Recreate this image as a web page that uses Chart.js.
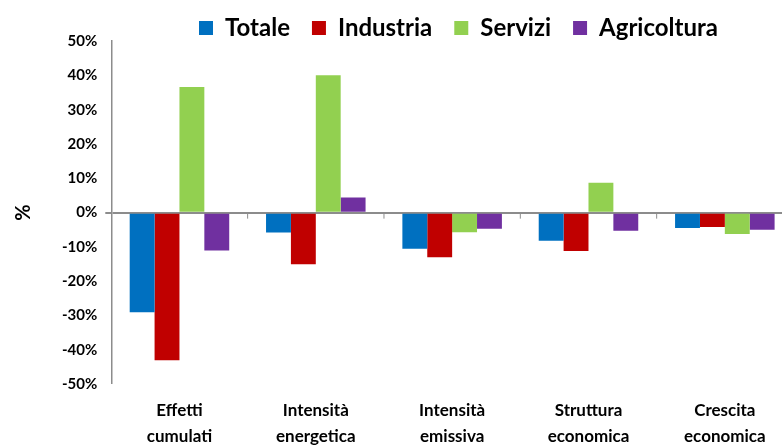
<!DOCTYPE html>
<html>
<head>
<meta charset="utf-8">
<script src="https://cdn.jsdelivr.net/npm/chart.js@4"></script>
<style>
  html, body { margin: 0; padding: 0; background: #fff; overflow: hidden; }
  #wrap { width: 798px; height: 455px; }
</style>
</head>
<body>
<div id="wrap"><canvas id="chart"></canvas></div>
<script>
const categories = [
  ["Effetti", "cumulati"],
  ["Intensità", "energetica"],
  ["Intensità", "emissiva"],
  ["Struttura", "economica"],
  ["Crescita", "economica"]
];
const totale = [-29, -5.8, -10.5, -8.2, -4.5];
const industria = [-43, -15, -13, -11.2, -4.2];
const servizi = [36.6, 40, -5.7, 8.7, -6.2];
const agricoltura = [-11, 4.4, -4.7, -5.3, -5];

const axisGray = "#8c8c8c";
const font = "Lato, 'Open Sans', sans-serif";

// little tick marks on the zero line between categories
const zeroTicks = {
  id: "zeroTicks",
  afterDatasetsDraw: function (chart) {
    var x = chart.scales.x, y = chart.scales.y;
    var ctx = chart.ctx;
    var y0 = y.getPixelForValue(0);
    ctx.save();
    ctx.strokeStyle = axisGray;
    ctx.lineWidth = 1;
    for (var i = 1; i < categories.length; i++) {
      var px = (x.getPixelForValue(i - 1) + x.getPixelForValue(i)) / 2;
      ctx.beginPath();
      ctx.moveTo(px, y0);
      ctx.lineTo(px, y0 + 6);
      ctx.stroke();
    }
    ctx.restore();
  }
};

// legend box is taller than needed, trim it (but don't clip the text)
// and nudge it right so it sits over the plot like the original
var TRIM = 9;
var SHIFT = 56;
const shortLegend = {
  id: "shortLegend",
  beforeInit: function (chart) {
    var lg = chart.legend;
    var fit = lg.fit;
    var draw = lg.draw;
    lg.fit = function () {
      fit.call(lg);
      this.height -= TRIM;
    };
    lg.draw = function () {
      this.height += TRIM;
      chart.ctx.save();
      chart.ctx.translate(SHIFT, 0);
      draw.call(lg);
      chart.ctx.restore();
      this.height -= TRIM;
    };
  }
};

var ctx = document.getElementById("chart").getContext("2d");
var myChart = new Chart(ctx, {
  type: "bar",
  data: {
    labels: categories,
    datasets: [
      { label: "Totale", data: totale, backgroundColor: "#0070C0" },
      { label: "Industria", data: industria, backgroundColor: "#C00000" },
      { label: "Servizi", data: servizi, backgroundColor: "#92D050" },
      { label: "Agricoltura", data: agricoltura, backgroundColor: "#7030A0" }
    ]
  },
  options: {
    responsive: true,
    maintainAspectRatio: false,
    animation: false,
    layout: { padding: { left: 12, right: 5, top: -6, bottom: 0 } },
    datasets: { bar: { categoryPercentage: 0.73, barPercentage: 1.0 } },
    plugins: {
      legend: {
        position: "top",
        labels: {
          font: { family: font, size: 24, weight: "bold" },
          color: "#000",
          boxWidth: 14,
          boxHeight: 14,
          padding: 22
        }
      },
      tooltip: { enabled: false }
    },
    scales: {
      x: {
        grid: { display: false },
        border: { display: false },
        ticks: {
          font: { family: font, size: 17, weight: "bold", lineHeight: 1.55 },
          color: "#000",
          padding: 5,
          maxRotation: 0
        }
      },
      y: {
        min: -50,
        max: 50,
        ticks: {
          stepSize: 10,
          callback: function (v) { return v + "%"; },
          font: { family: font, size: 15, weight: "bold" },
          color: "#000",
          padding: 8
        },
        grid: {
          color: function (c) { return c.tick && c.tick.value === 0 ? axisGray : "transparent"; },
          lineWidth: function (c) { return c.tick && c.tick.value === 0 ? 2 : 0; },
          tickColor: axisGray,
          tickLength: 6,
          drawTicks: true
        },
        border: { display: true, color: axisGray, width: 1.5 },
        title: {
          display: true,
          text: "%",
          font: { family: font, size: 20, weight: "bold" },
          color: "#000",
          padding: { top: 0, bottom: 18 }
        }
      }
    }
  },
  plugins: [zeroTicks, shortLegend]
});
</script>
</body>
</html>
